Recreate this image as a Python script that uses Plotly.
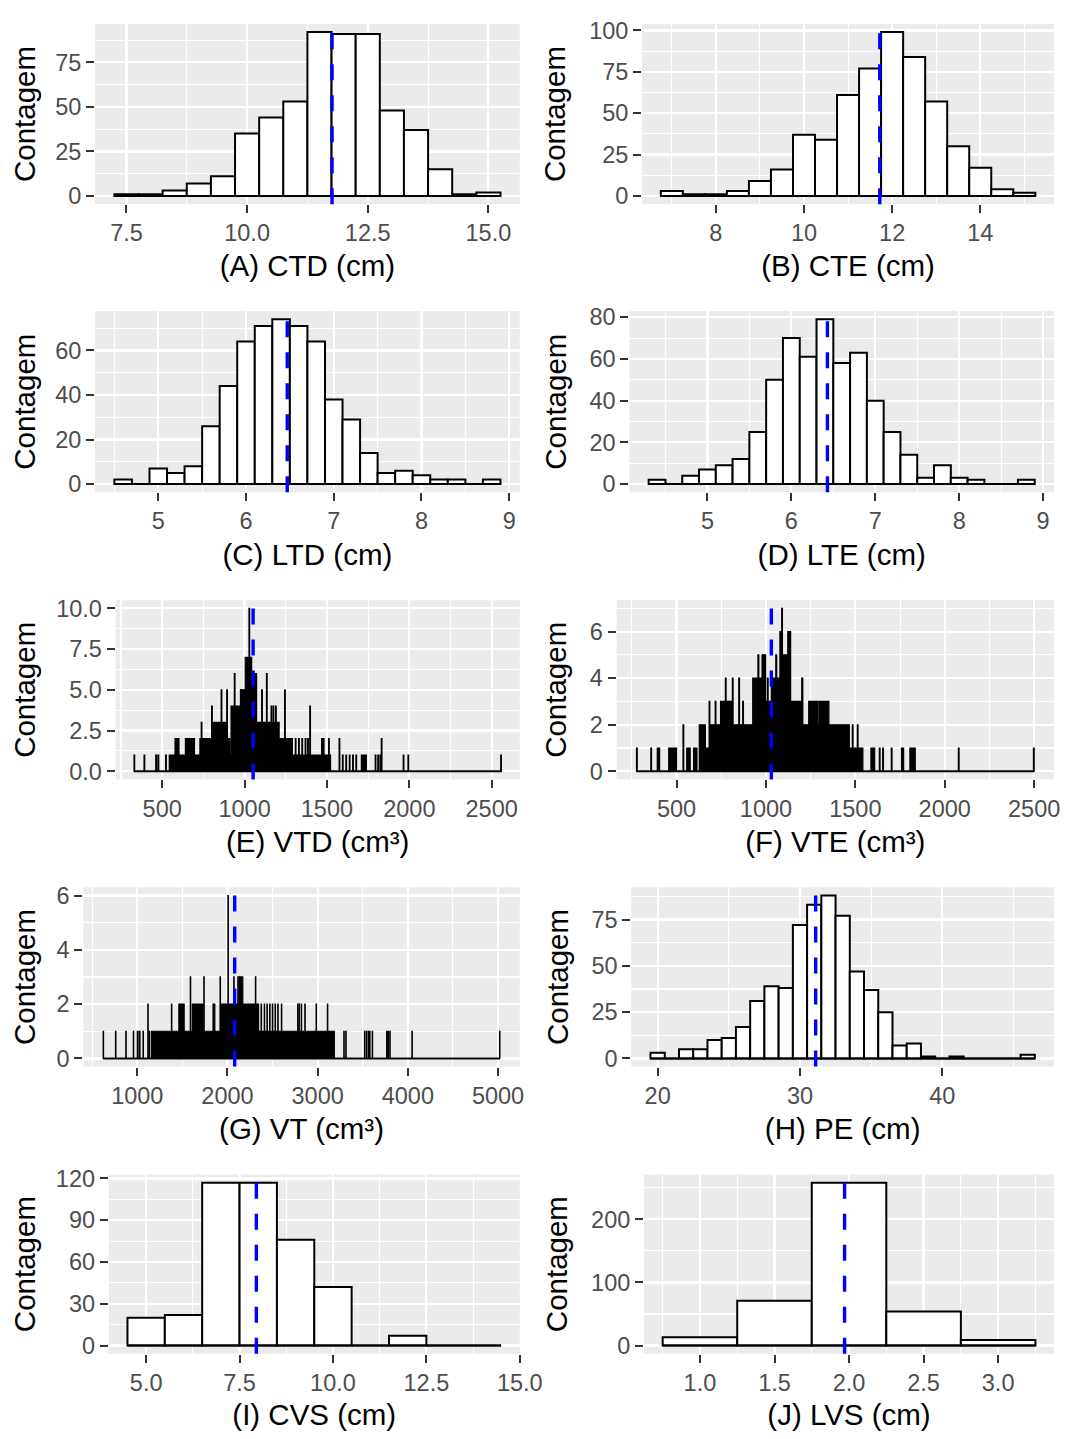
import plotly.graph_objects as go

PAGE_W, PAGE_H = 1087, 1439
BODY_MARGIN = 8  # default browser body margin around the plot div
FIG_W, FIG_H = PAGE_W - 2 * BODY_MARGIN, PAGE_H - 2 * BODY_MARGIN
FONT = "Liberation Sans, Arial, Helvetica, sans-serif"

# ---------------- data ----------------
ctd_mid = [7.5, 8.0, 8.5, 9.0, 9.5, 10.0, 10.5, 11.0, 11.5, 12.0, 12.5, 13.0, 13.5, 14.0, 14.5, 15.0]
ctd_n = [1, 1, 3, 7, 11, 35, 44, 53, 92, 91, 91, 48, 37, 15, 1, 2]

cte_mid = [7.0, 7.5, 8.0, 8.5, 9.0, 9.5, 10.0, 10.5, 11.0, 11.5, 12.0, 12.5, 13.0, 13.5, 14.0, 14.5, 15.0]
cte_n = [3, 1, 1, 3, 9, 16, 37, 34, 61, 77, 99, 84, 57, 30, 17, 4, 2]

ltd_mid = [4.6, 4.8, 5.0, 5.2, 5.4, 5.6, 5.8, 6.0, 6.2, 6.4, 6.6, 6.8, 7.0, 7.2, 7.4, 7.6, 7.8, 8.0, 8.2, 8.4, 8.6, 8.8]
ltd_n = [2, 0, 7, 5, 8, 26, 44, 64, 71, 74, 71, 64, 38, 29, 14, 5, 6, 4, 2, 2, 0, 2]

lte_mid = [4.4, 4.6, 4.8, 5.0, 5.2, 5.4, 5.6, 5.8, 6.0, 6.2, 6.4, 6.6, 6.8, 7.0, 7.2, 7.4, 7.6, 7.8, 8.0, 8.2, 8.4, 8.6, 8.8]
lte_n = [2, 0, 4, 7, 9, 12, 25, 50, 70, 61, 79, 58, 63, 40, 25, 14, 3, 9, 3, 2, 0, 0, 2]

# volume histograms: runs of (bin start, bin end, count) read from the envelope
vtd_lo = [329, 390, 461, 474, 521, 543, 578, 602, 641, 696, 729, 737, 741, 800, 804, 858, 862, 892, 896, 912,
          918, 938, 942, 975, 979, 1004, 1027, 1031, 1043, 1073, 1104, 1108, 1133, 1137, 1161, 1165, 1173, 1177,
          1188, 1192, 1210, 1243, 1247, 1290, 1308, 1312, 1328, 1332, 1348, 1352, 1368, 1372, 1383, 1387, 1396,
          1400, 1468, 1472, 1478, 1482, 1510, 1514, 1574, 1594, 1615, 1636, 1656, 1676, 1709, 1793, 1809, 1822,
          1830, 1963, 1992, 2555]
vtd_hi = [333, 394, 466, 479, 525, 578, 602, 641, 696, 729, 737, 741, 800, 804, 858, 862, 892, 896, 912, 918,
          938, 942, 975, 979, 1004, 1027, 1031, 1043, 1073, 1104, 1108, 1133, 1137, 1161, 1165, 1173, 1177, 1188,
          1192, 1210, 1243, 1247, 1290, 1308, 1312, 1328, 1332, 1348, 1352, 1368, 1372, 1383, 1387, 1396, 1400,
          1468, 1472, 1478, 1482, 1510, 1514, 1522, 1578, 1598, 1619, 1640, 1660, 1680, 1739, 1797, 1813, 1830,
          1834, 1967, 1996, 2559]
vtd_n = [1, 1, 1, 1, 1, 1, 2, 1, 2, 1, 2, 3, 2, 4, 3, 5, 3, 5, 2, 1,
         4, 6, 4, 5, 5, 7, 10, 7, 6, 3, 5, 3, 6, 3, 4, 3, 4, 3,
         4, 3, 2, 5, 2, 1, 2, 1, 2, 1, 2, 1, 2, 1, 2, 1, 4,
         1, 2, 1, 2, 1, 2, 1, 2, 1, 1, 1, 1, 1, 1, 1, 1, 1,
         2, 1, 1, 1]

vte_lo = [276, 356, 392, 456, 536, 557, 595, 627, 661, 682, 686, 716, 720, 746, 773, 777, 794, 812, 816, 848,
          852, 870, 874, 926, 955, 960, 978, 983, 998, 1008, 1012, 1030, 1055, 1060, 1078, 1088, 1092, 1122,
          1138, 1200, 1206, 1239, 1290, 1296, 1352, 1466, 1483, 1487, 1511, 1515, 1587, 1634, 1653, 1701, 1758,
          1805, 2076, 2496]
vte_hi = [280, 360, 405, 500, 540, 576, 614, 661, 682, 686, 716, 720, 746, 773, 777, 794, 812, 816, 848, 852,
          870, 874, 926, 955, 960, 978, 983, 998, 1008, 1012, 1030, 1055, 1060, 1078, 1088, 1092, 1122, 1138,
          1200, 1206, 1239, 1290, 1296, 1352, 1466, 1483, 1487, 1511, 1515, 1542, 1608, 1638, 1657, 1705, 1770,
          1835, 2080, 2500]
vte_n = [1, 1, 1, 1, 2, 1, 1, 2, 1, 3, 2, 3, 2, 3, 4, 3, 3, 4, 2, 4,
         2, 3, 2, 4, 5, 4, 5, 5, 3, 4, 3, 4, 5, 4, 6, 7, 5, 6,
         3, 4, 2, 3, 2, 3, 2, 1, 2, 1, 2, 1, 1, 1, 1, 1, 1,
         1, 1, 1]

vt_lo = [622, 759, 873, 956, 1000, 1020, 1064, 1117, 1130, 1155, 1379, 1383, 1461, 1520, 1588, 1592, 1610, 1730,
         1738, 1742, 1840, 1860, 1918, 1922, 2005, 2009, 2070, 2074, 2115, 2119, 2130, 2134, 2145, 2170, 2310,
         2314, 2345, 2373, 2377, 2408, 2412, 2438, 2442, 2468, 2472, 2498, 2502, 2528, 2532, 2558, 2562, 2598,
         2602, 2778, 2782, 2793, 2797, 2818, 2822, 2858, 2862, 2983, 2987, 3108, 3112, 3290, 3312, 3520, 3540,
         3560, 3576, 3605, 3765, 3800, 4045, 5017]
vt_hi = [626, 763, 877, 960, 1006, 1030, 1068, 1121, 1134, 1379, 1383, 1461, 1520, 1588, 1592, 1610, 1730, 1738,
         1742, 1840, 1860, 1918, 1922, 2005, 2009, 2070, 2074, 2115, 2119, 2130, 2134, 2145, 2170, 2310, 2314,
         2345, 2373, 2377, 2408, 2412, 2438, 2442, 2468, 2472, 2498, 2502, 2528, 2532, 2558, 2562, 2598, 2602,
         2778, 2782, 2793, 2797, 2818, 2822, 2858, 2862, 2983, 2987, 3108, 3112, 3185, 3294, 3316, 3524, 3544,
         3564, 3580, 3609, 3785, 3804, 4049, 5021]
vt_n = [1, 1, 1, 1, 1, 1, 1, 2, 1, 1, 2, 1, 2, 1, 3, 1, 2, 1,
        3, 1, 2, 1, 3, 2, 6, 2, 3, 2, 3, 2, 3, 2, 3, 2, 3,
        2, 1, 2, 1, 2, 1, 2, 1, 2, 1, 2, 1, 2, 1, 2, 1, 2,
        1, 2, 1, 2, 1, 2, 1, 2, 1, 2, 1, 2, 1, 1, 1, 1, 1,
        1, 1, 1, 1, 1, 1, 1]

pe_mid = [20, 21, 22, 23, 24, 25, 26, 27, 28, 29, 30, 31, 32, 33, 34, 35, 36, 37, 38, 39, 40, 41, 42, 43, 44, 45, 46]
pe_n = [3, 0, 5, 5, 10, 11, 17, 31, 39, 38, 72, 83, 88, 77, 47, 37, 25, 7, 8, 1, 0, 1, 0, 0, 0, 0, 2]

cvs_mid = [5, 6, 7, 8, 9, 10, 11, 12, 13, 14]
cvs_n = [20, 22, 117, 117, 76, 42, 0, 7, 0, 0]

lvs_mid = [1.0, 1.5, 2.0, 2.5, 3.0]
lvs_n = [13, 71, 258, 54, 9]

mean_values = [11.76, 11.72, 6.47, 6.43, 1052, 1030, 2080, 31.1, 7.95, 1.97]

panel_titles = ["(A) CTD (cm)", "(B) CTE (cm)", "(C) LTD (cm)", "(D) LTE (cm)", "(E) VTD (cm³)",
                "(F) VTE (cm³)", "(G) VT (cm³)", "(H) PE (cm)", "(I) CVS (cm)", "(J) LVS (cm)"]
y_title = "Contagem"

x_tickvals = [[7.5, 10, 12.5, 15], [8, 10, 12, 14], [5, 6, 7, 8, 9], [5, 6, 7, 8, 9],
              [500, 1000, 1500, 2000, 2500], [500, 1000, 1500, 2000, 2500],
              [1000, 2000, 3000, 4000, 5000], [20, 30, 40], [5, 7.5, 10, 12.5, 15], [1, 1.5, 2, 2.5, 3]]
x_ticktext = [["7.5", "10.0", "12.5", "15.0"], ["8", "10", "12", "14"], ["5", "6", "7", "8", "9"],
              ["5", "6", "7", "8", "9"], ["500", "1000", "1500", "2000", "2500"],
              ["500", "1000", "1500", "2000", "2500"], ["1000", "2000", "3000", "4000", "5000"],
              ["20", "30", "40"], ["5.0", "7.5", "10.0", "12.5", "15.0"], ["1.0", "1.5", "2.0", "2.5", "3.0"]]
x_minor = [[8.75, 11.25, 13.75], [7, 9, 11, 13, 15], [4.5, 5.5, 6.5, 7.5, 8.5], [4.5, 5.5, 6.5, 7.5, 8.5],
           [250, 750, 1250, 1750, 2250], [250, 750, 1250, 1750, 2250],
           [500, 1500, 2500, 3500, 4500], [25, 35, 45], [6.25, 8.75, 11.25, 13.75],
           [0.75, 1.25, 1.75, 2.25, 2.75, 3.25]]
y_tickvals = [[0, 25, 50, 75], [0, 25, 50, 75, 100], [0, 20, 40, 60], [0, 20, 40, 60, 80],
              [0, 2.5, 5, 7.5, 10], [0, 2, 4, 6], [0, 2, 4, 6], [0, 25, 50, 75],
              [0, 30, 60, 90, 120], [0, 100, 200]]
y_ticktext = [["0", "25", "50", "75"], ["0", "25", "50", "75", "100"], ["0", "20", "40", "60"],
              ["0", "20", "40", "60", "80"], ["0.0", "2.5", "5.0", "7.5", "10.0"], ["0", "2", "4", "6"],
              ["0", "2", "4", "6"], ["0", "25", "50", "75"], ["0", "30", "60", "90", "120"],
              ["0", "100", "200"]]
y_minor = [[12.5, 37.5, 62.5, 87.5], [12.5, 37.5, 62.5, 87.5], [10, 30, 50, 70], [10, 30, 50, 70],
           [1.25, 3.75, 6.25, 8.75], [1, 3, 5, 7], [1, 3, 5], [12.5, 37.5, 62.5, 87.5],
           [15, 45, 75, 105], [50, 150, 250]]

# ---------------- layout geometry (page pixels: left, right, top, bottom) ----------------
boxes = [(97, 531, 15, 197), (656, 1077, 15, 197),
         (97, 531, 305, 488), (643, 1077, 305, 488),
         (118, 531, 597, 778), (630, 1077, 597, 778),
         (85, 531, 887, 1068), (645, 1077, 887, 1068),
         (111, 531, 1177, 1358), (658, 1077, 1177, 1358)]


def hist_from_mids(mids, counts):
    w = mids[1] - mids[0]
    return list(mids), [w] * len(mids), list(counts), mids[0] - w / 2, mids[-1] + w / 2


def hist_from_runs(lo, hi, counts):
    mids = [(a + b) / 2 for a, b in zip(lo, hi)]
    widths = [b - a for a, b in zip(lo, hi)]
    return mids, widths, list(counts), min(lo), max(hi)


panels = [
    hist_from_mids(ctd_mid, ctd_n),
    hist_from_mids(cte_mid, cte_n),
    hist_from_mids(ltd_mid, ltd_n),
    hist_from_mids(lte_mid, lte_n),
    hist_from_runs(vtd_lo, vtd_hi, vtd_n),
    hist_from_runs(vte_lo, vte_hi, vte_n),
    hist_from_runs(vt_lo, vt_hi, vt_n),
    hist_from_mids(pe_mid, pe_n),
    hist_from_mids(cvs_mid, cvs_n),
    hist_from_mids(lvs_mid, lvs_n),
]
dense = [False, False, False, False, True, True, True, False, False, False]

fig = go.Figure()
shapes = []
layout_axes = {}


def fx(px):
    return (px - BODY_MARGIN) / FIG_W


def fy(py):
    return 1 - (py - BODY_MARGIN) / FIG_H


for i, (mids, widths, counts, lo, hi) in enumerate(panels):
    k = "" if i == 0 else str(i + 1)
    xa, ya = "x" + k, "y" + k
    l, r, t, b = boxes[i]

    # zero baseline (outline of empty bins)
    fig.add_trace(go.Scatter(x=[lo, hi], y=[0, 0], mode="lines", line=dict(color="black", width=2),
                             xaxis=xa, yaxis=ya, showlegend=False, hoverinfo="skip"))
    fig.add_trace(go.Bar(x=mids, y=counts, width=widths, xaxis=xa, yaxis=ya, showlegend=False,
                         marker=dict(color="black" if dense[i] else "white",
                                     line=dict(color="black", width=1.2 if dense[i] else 2)),
                         hoverinfo="skip"))

    d = hi - lo
    xrange = [lo - 0.05 * d, hi + 0.05 * d]
    ymax = max(counts)
    yrange = [-0.05 * ymax, 1.05 * ymax]

    shapes.append(dict(type="line", xref=xa, yref=ya + " domain", x0=mean_values[i], x1=mean_values[i],
                       y0=0, y1=1, line=dict(color="#0000FF", width=3.4, dash="16px,15px"), layer="above"))

    tickfont = dict(family=FONT, size=23.5, color="#4D4D4D")
    titlefont = dict(family=FONT, size=29.5, color="black")
    layout_axes["xaxis" + k] = dict(
        domain=[fx(l), fx(r)], anchor=ya, range=xrange,
        tickmode="array", tickvals=x_tickvals[i], ticktext=x_ticktext[i],
        ticks="outside", ticklen=8, tickwidth=2, tickcolor="#333333", tickfont=tickfont,
        showgrid=True, gridcolor="white", gridwidth=2.2, zeroline=False, showline=False,
        minor=dict(tickmode="array", tickvals=x_minor[i], showgrid=True, gridcolor="white", gridwidth=1.1,
                   ticks=""),
        title=dict(text=panel_titles[i], font=titlefont, standoff=10),
        fixedrange=True,
    )
    layout_axes["yaxis" + k] = dict(
        domain=[fy(b), fy(t)], anchor=xa, range=yrange,
        tickmode="array", tickvals=y_tickvals[i], ticktext=y_ticktext[i],
        ticks="outside", ticklen=8, tickwidth=2, tickcolor="#333333", tickfont=tickfont,
        showgrid=True, gridcolor="white", gridwidth=2.2, zeroline=False, showline=False,
        minor=dict(tickmode="array", tickvals=y_minor[i], showgrid=True, gridcolor="white", gridwidth=1.1,
                   ticks=""),
        title=dict(text=y_title, font=titlefont, standoff=14),
        fixedrange=True,
    )

fig.update_layout(
    width=FIG_W, height=FIG_H,
    margin=dict(l=0, r=0, t=0, b=0),
    paper_bgcolor="white", plot_bgcolor="#EBEBEB",
    barmode="overlay", bargap=0,
    shapes=shapes,
    font=dict(family=FONT),
    showlegend=False,
    **layout_axes,
)

fig.write_html("out.html", include_plotlyjs=True, full_html=True,
               config={"displayModeBar": False, "staticPlot": True})
